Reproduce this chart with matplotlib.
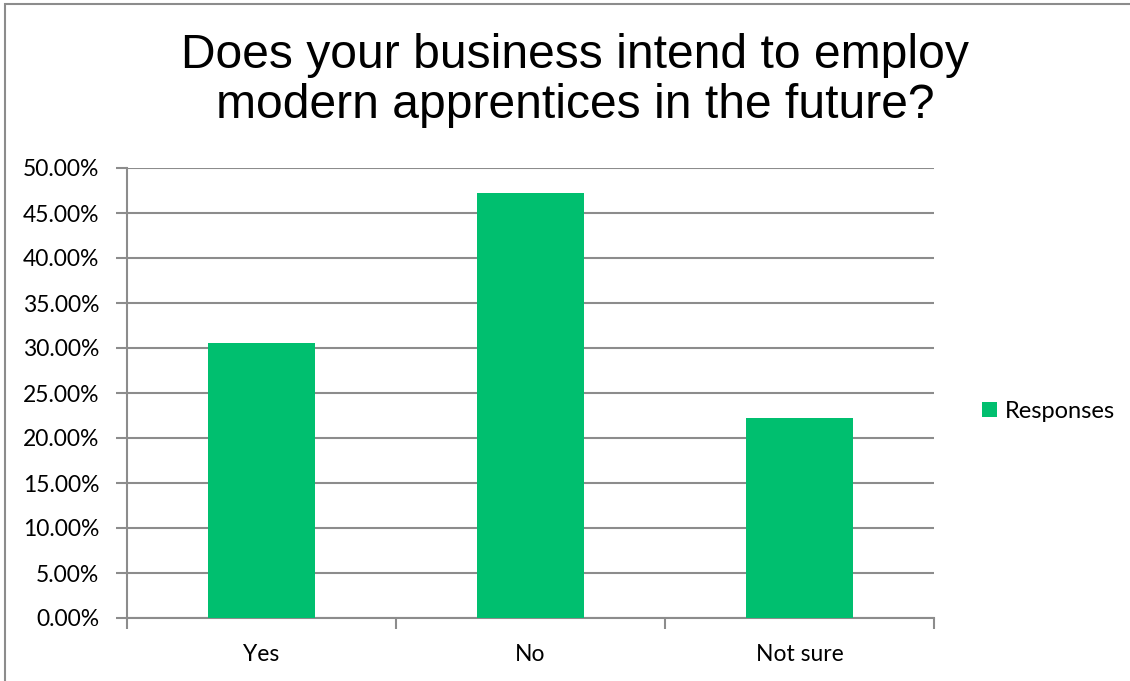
import matplotlib
matplotlib.use('Agg')
import matplotlib.pyplot as plt
from matplotlib.patches import Rectangle
from matplotlib.ticker import FuncFormatter

# Data
categories = ['Yes', 'No', 'Not sure']
responses = [30.56, 47.22, 22.22]  # percent
y_ticks = [0, 5, 10, 15, 20, 25, 30, 35, 40, 45, 50]

bar_color = '#00BF6F'
grid_color = '#8C8C8C'
label_font = 'Lato'

fig = plt.figure(figsize=(11.3, 6.81), dpi=100)
ax = fig.add_axes([127 / 1130, 63 / 681, (934 - 127) / 1130, (618 - 168) / 681])

x = range(len(categories))
ax.bar(x, responses, width=0.4, color=bar_color, label='Responses', zorder=3)

ax.set_xlim(-0.5, len(categories) - 0.5)
ax.set_ylim(0, 50)
ax.set_yticks(y_ticks)
ax.yaxis.set_major_formatter(FuncFormatter(lambda v, p: '%.2f%%' % v))
ax.set_xticks(list(x))
ax.set_xticklabels(categories)
ax.set_xticks([i - 0.5 for i in range(len(categories) + 1)], minor=True)

ax.grid(axis='y', color=grid_color, linewidth=1.5, zorder=0)
for s in ['top', 'right']:
    ax.spines[s].set_visible(False)
for s in ['left', 'bottom']:
    ax.spines[s].set_color(grid_color)
    ax.spines[s].set_linewidth(1.5)

ax.tick_params(axis='y', length=8, width=1.5, color=grid_color, pad=12,
               labelsize=16.5)
ax.tick_params(axis='x', which='major', length=0, pad=19, labelsize=16.5)
ax.tick_params(axis='x', which='minor', length=8, width=1.5, color=grid_color)
for lab in ax.get_xticklabels() + ax.get_yticklabels():
    lab.set_fontfamily(label_font)

fig.text(0.509, 0.882, 'Does your business intend to employ\nmodern apprentices in the future?',
         ha='center', va='center', fontsize=34.6, family='Liberation Sans',
         linespacing=1.15)

leg = ax.legend(loc='center left', bbox_to_anchor=(973 / 1130, 1 - 411 / 681),
                bbox_transform=fig.transFigure, frameon=False, borderaxespad=0,
                prop={'family': label_font, 'size': 17},
                handlelength=0.6, handleheight=0.6, handletextpad=0.35)

# chart border
fig.patches.append(Rectangle((5 / 1130, -0.1), 1.2, (681 - 4) / 681 + 0.1,
                             transform=fig.transFigure, fill=False,
                             edgecolor=grid_color, linewidth=1.5, clip_on=False))

plt.savefig('out.png', dpi=100)
